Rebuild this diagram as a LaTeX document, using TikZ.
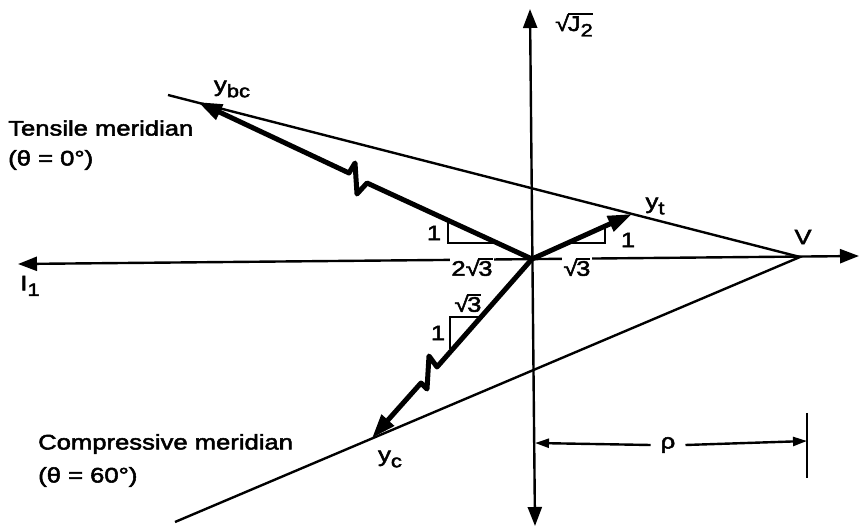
\documentclass[tikz,border=0pt]{standalone}
\usepackage{fontspec}
\setmainfont{Liberation Sans}[FakeStretch=1.22,FakeBold=2.5]
\usetikzlibrary{arrows.meta}
\newcommand\lowsub[1]{\raisebox{-0.5ex}{\fontsize{18}{18}\selectfont #1}}
\newcommand\rt[1]{\mbox{√\kern-1.4pt\vbox{\hrule height 1.8pt\kern 1.2pt\hbox{#1}}}}
\begin{document}
\begin{tikzpicture}[x=1pt,y=-1pt,
  thinline/.style={line width=2.4pt},
  vec/.style={line width=5pt, line join=round, -{Triangle[length=24pt,width=16pt]}},
  ax/.style={line width=2.4pt, {Triangle[length=19pt,width=14pt]}-{Triangle[length=19pt,width=14pt]}},
  dimarrow/.style={line width=2.4pt, -{Triangle[length=14pt,width=9pt]}},
  lbl/.style={font=\fontsize{21}{23}\selectfont, inner sep=0pt},
  wlbl/.style={lbl, fill=white, inner sep=1.5pt},
]
\useasboundingbox (0,0) rectangle (860,529);
% key points
\coordinate (L) at (18,264);
\coordinate (R) at (859,256);
\coordinate (Top) at (530,9);
\coordinate (Bot) at (535,526);
\coordinate (O) at (532,259);
\coordinate (V) at (800,257);
\coordinate (T0) at (168,95);
\coordinate (C0) at (175,522);
\coordinate (Ybc) at (198,102);
\coordinate (Yt) at (632,214);
\coordinate (Yc) at (372,438);
% axes
\draw[ax] (L) -- (R);
\draw[ax] (Bot) -- (Top);
% meridians
\draw[thinline] (T0) -- (V) -- (C0);
% slope triangles
\draw[thinline] (448,222) -- (448,243) -- (494,243);
\draw[thinline] (570,243) -- (605,243) -- (605,227);
\draw[thinline] (480,317) -- (450,317) -- (450,349);
% labels on the axis
\node[wlbl] (n2a) at (472,267) {2\rt{3}};
\node[wlbl] (n3a) at (577,267) {\rt{3}};
% vectors
\draw[vec] (O) -- (367,183) -- (357,194) -- (355,163) -- (349,173) -- (Ybc);
\draw[vec] (O) -- (Yt);
\draw[vec] (O) -- (437,367) -- (429,356) -- (427,389) -- (421,383) -- (Yc);
% rho dimension
\coordinate (Rt) at (807,441);
\coordinate (Lt) at (535,443);
\draw[thinline] (807,413) -- (807,478);
\node[lbl] (rho) at (668,445) {ρ};
\draw[dimarrow] (rho.west) ++(-10,0) -- (Lt);
\draw[dimarrow] (rho.east) ++(10,0) -- (Rt);
% labels
\node[lbl, anchor=west] (tm) at (8,128) {Tensile meridian};
\node[lbl, anchor=west] (tm2) at (8,160) {(θ = 0°)};
\node[lbl, anchor=west] (cm) at (38,444) {Compressive meridian};
\node[lbl, anchor=west] (cm2) at (38,477) {(θ = 60°)};
\node[lbl] (lybc) at (232,89) {y\lowsub{bc}};
\node[lbl] (lyt) at (655,206) {y\lowsub{t}};
\node[lbl] (lyc) at (390,459) {y\lowsub{c}};
\node[lbl] (lV) at (803,237) {V};
\node[lbl] (lJ) at (574,25) {\rt{J\lowsub{2}}};
\node[lbl] (lI) at (30,286) {I\lowsub{1}};
\node[lbl] (n1a) at (434,233) {1};
\node[lbl] (n1b) at (628,240) {1};
\node[lbl] (n3b) at (468,303) {\rt{3}};
\node[lbl] (n1c) at (438,333) {1};
\end{tikzpicture}
\end{document}
